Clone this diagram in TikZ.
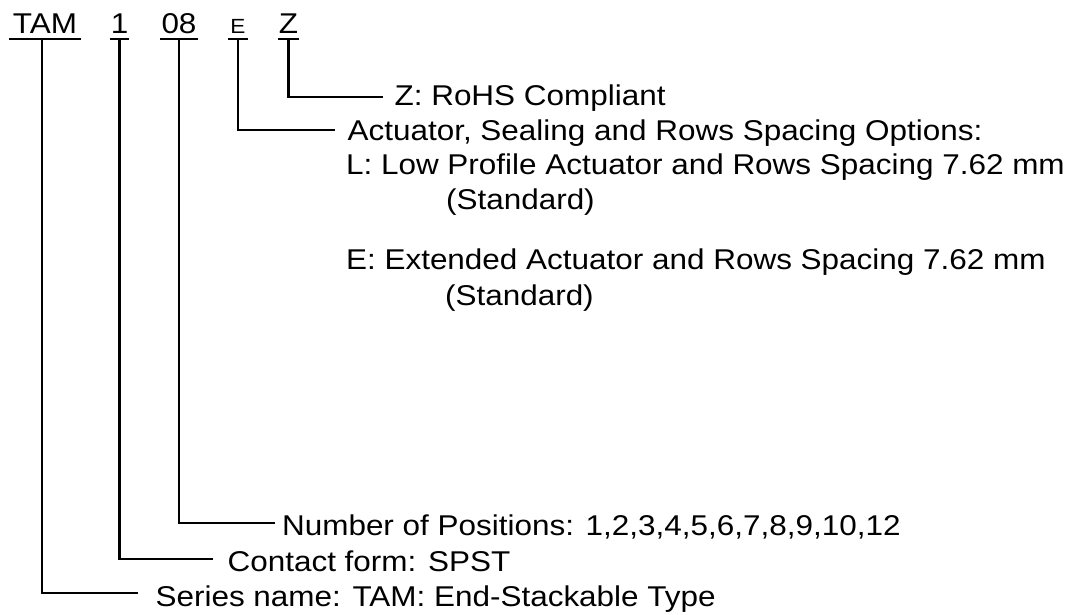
\documentclass[tikz,border=0pt]{standalone}
\usepackage{fontspec}
\setmainfont{Liberation Sans}[FakeStretch=1.1]
\begin{document}
\begin{tikzpicture}[x=1pt,y=-1pt,line width=2.2pt,
  txt/.style={anchor=base west,inner sep=0pt,font=\fontsize{28.6}{34}\selectfont},
  hdr/.style={anchor=base,inner sep=0pt,font=\fontsize{28.6}{34}\selectfont},
  hdrsmall/.style={hdr,font=\fontsize{20.5}{24}\selectfont},
  uline/.style={line width=2.2pt},
  conn/.style={line width=2.1pt}]
\useasboundingbox (0,0) rectangle (1077,615);
% header code parts
\node[hdr,minimum width=70pt] (tam) at (45,34) {TAM};
\node[hdr,minimum width=17pt] (one) at (119.5,34) {1};
\node[hdr,minimum width=36pt] (pos) at (179,34) {08};
\node[hdrsmall,minimum width=18pt] (ecode) at (238,34) {E};
\node[hdr,minimum width=18pt] (zcode) at (288.5,34) {Z};
\foreach \n in {tam,one,pos,ecode,zcode}
  \draw[uline] ([yshift=-5pt]\n.base west) -- ([yshift=-5pt]\n.base east);
% explanation texts
\node[txt] (ztxt) at (393.5,106) {Z: RoHS Compliant};
\node[txt] (act) at (346.5,141) {Actuator, Sealing and Rows Spacing Options:};
\node[txt] (lopt) at (345,175) {L: Low Profile Actuator and Rows Spacing 7.62 mm};
\node[txt] (lstd) at (445,209) {(Standard)};
\node[txt] (eopt) at (345,269) {E: Extended Actuator and Rows Spacing 7.62 mm};
\node[txt] (estd) at (444,305) {(Standard)};
\node[txt] (num) at (281,535) {Number of Positions: 1,2,3,4,5,6,7,8,9,10,12};
\node[txt] (contact) at (226.5,571) {Contact form: SPST};
\node[txt] (series) at (154.5,606) {Series name: TAM: End-Stackable Type};
% connectors
\draw[conn] ([yshift=-5pt]zcode.base) |- ([xshift=-10.5pt,yshift=9pt]ztxt.base west);
\draw[conn] ([yshift=-5pt]ecode.base) |- ([xshift=-11.5pt,yshift=11pt]act.base west);
\draw[conn] ([yshift=-5pt]pos.base) |- ([xshift=-6pt,yshift=12pt]num.base west);
\draw[conn] ([yshift=-5pt]one.base) |- ([xshift=-13.5pt,yshift=12pt]contact.base west);
\draw[conn] ([xshift=-3pt,yshift=-5pt]tam.base) |- ([xshift=-16.5pt,yshift=13pt]series.base west);
\end{tikzpicture}
\end{document}
